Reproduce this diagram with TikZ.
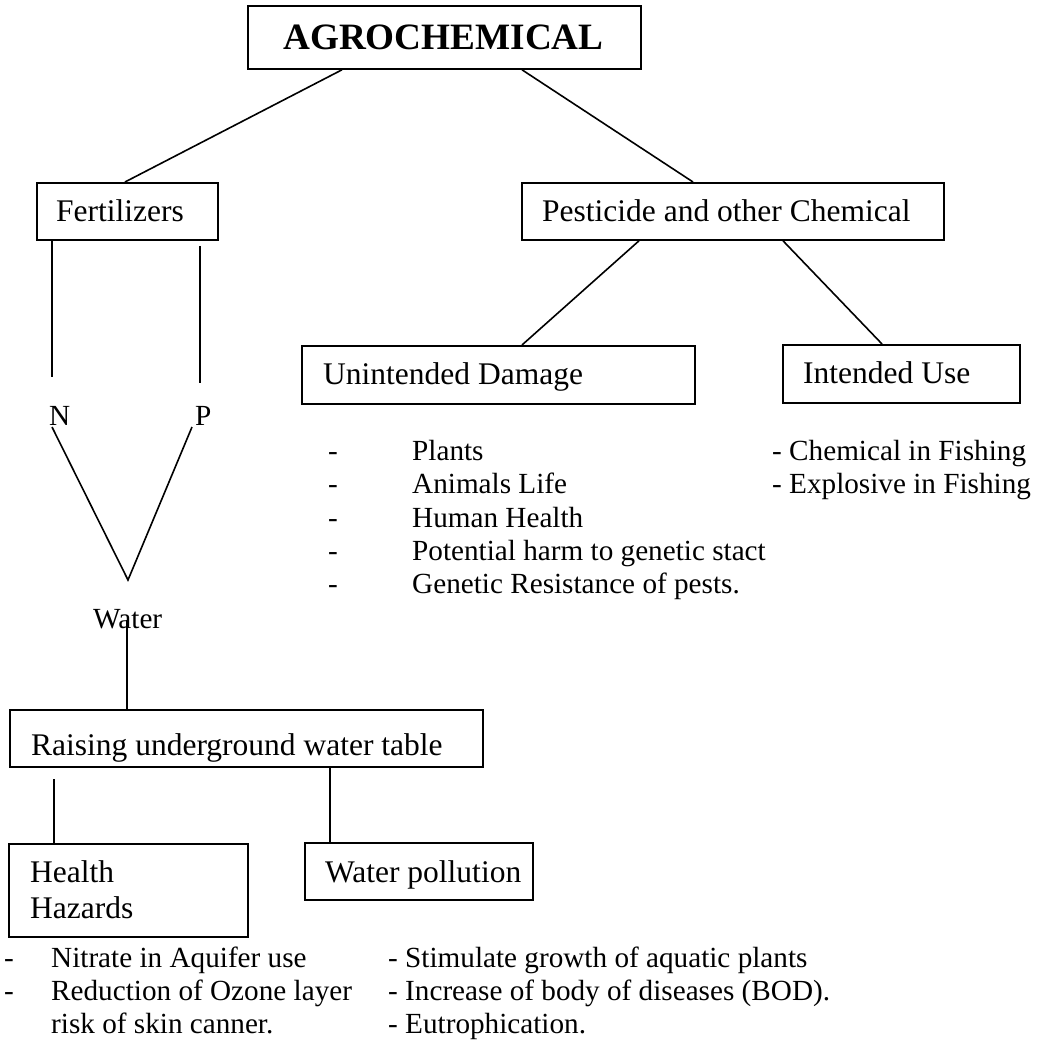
\documentclass[tikz,border=0pt]{standalone}
\usepackage{fontspec}
\setmainfont{Liberation Serif}
\begin{document}
\begin{tikzpicture}[x=1pt,y=-1pt,
  box/.style={draw, line width=1.8pt, anchor=north west, inner sep=0pt},
  txt/.style={anchor=base west, inner sep=0pt, font=\fontsize{31.5}{36}\selectfont},
  lst/.style={anchor=base west, inner sep=0pt, font=\fontsize{29.2}{33}\selectfont},
  conn/.style={line width=1.6pt}]
\useasboundingbox[fill=white] (0,0) rectangle (1043,1040);

% boxes
\node[box, minimum width=393pt, minimum height=63pt] (agro)   at (247,5)   {};
\node[box, minimum width=181pt, minimum height=57pt] (fert)   at (36,182)  {};
\node[box, minimum width=422pt, minimum height=57pt] (pest)   at (521,182) {};
\node[box, minimum width=393pt, minimum height=58pt] (unint)  at (301,345) {};
\node[box, minimum width=237pt, minimum height=58pt] (intend) at (782,344) {};
\node[box, minimum width=473pt, minimum height=57pt] (raise)  at (9,709)   {};
\node[box, minimum width=239pt, minimum height=93pt] (health) at (8,843)   {};
\node[box, minimum width=228pt, minimum height=57pt] (wpoll)  at (304,842) {};

% box texts
\node[txt, font=\bfseries\fontsize{37.2}{40}\selectfont] (t-agro) at (283,50) {AGROCHEMICAL};
\node[txt] (t-fert)   at (56,222)  {Fertilizers};
\node[txt] (t-pest)   at (542,222) {Pesticide and other Chemical};
\node[txt] (t-unint)  at (323,384) {Unintended Damage};
\node[txt] (t-intend) at (803,383) {Intended Use};
\node[txt] (t-raise)  at (31,755)  {Raising underground water table};
\node[txt] (t-health) at (30,882)  {Health};
\node[txt] (t-hazard) at (30,918)  {Hazards};
\node[txt] (t-wpoll)  at (325,882) {Water pollution};

% N, P, Water
\node[lst] (nlab)  at (49,425)  {N};
\node[lst] (plab)  at (195,425) {P};
\node[lst] (water) at (93,628)  {Water};

% free ends
\coordinate (ntop)  at (52,377);
\coordinate (frtop) at (200,246);
\coordinate (ptop)  at (200,383);
\coordinate (nend)  at (52,427);
\coordinate (pend)  at (192,427);
\coordinate (vtip)  at (128,580);
\coordinate (wbot)  at (127,620);
\coordinate (hztop) at (54,779);

% connectors
\draw[conn] (agro.south -| 342,0) -- (fert.north -| 125,0);
\draw[conn] (agro.south -| 522,0) -- (pest.north -| 693,0);
\draw[conn] (fert.south -| 52,0) -- (ntop);
\draw[conn] (frtop) -- (ptop);
\draw[conn] (pest.south -| 639,0) -- (unint.north -| 522,0);
\draw[conn] (pest.south -| 783,0) -- (intend.north -| 882,0);
\draw[conn] (nend) -- (vtip) -- (pend);
\draw[conn] (wbot) -- (raise.north -| wbot);
\draw[conn] (hztop) -- (health.north -| hztop);
\draw[conn] (raise.south -| 330,0) -- (wpoll.north -| 330,0);

% unintended damage list
\node[lst] (d1) at (328,460) {-};
\node[lst] (d2) at (328,493) {-};
\node[lst] (d3) at (328,527) {-};
\node[lst] (d4) at (328,560) {-};
\node[lst] (d5) at (328,593) {-};
\node[lst] (u1) at (412,460) {Plants};
\node[lst] (u2) at (412,493) {Animals Life};
\node[lst] (u3) at (412,527) {Human Health};
\node[lst] (u4) at (412,560) {Potential harm to genetic stact};
\node[lst] (u5) at (412,593) {Genetic Resistance of pests.};

% intended use list
\node[lst] (i1) at (772,460) {- Chemical in Fishing};
\node[lst] (i2) at (772,493) {- Explosive in Fishing};

% health hazards list
\node[lst] (h0a) at (4,967)  {-};
\node[lst] (h0b) at (4,1000) {-};
\node[lst] (h1) at (51,967)  {Nitrate in Aquifer use};
\node[lst] (h2) at (51,1000) {Reduction of Ozone layer};
\node[lst] (h3) at (51,1033) {risk of skin canner.};

% water pollution list
\node[lst] (w1) at (388,967)  {- Stimulate growth of aquatic plants};
\node[lst] (w2) at (388,1000) {- Increase of body of diseases (BOD).};
\node[lst] (w3) at (388,1033) {- Eutrophication.};
\end{tikzpicture}
\end{document}
